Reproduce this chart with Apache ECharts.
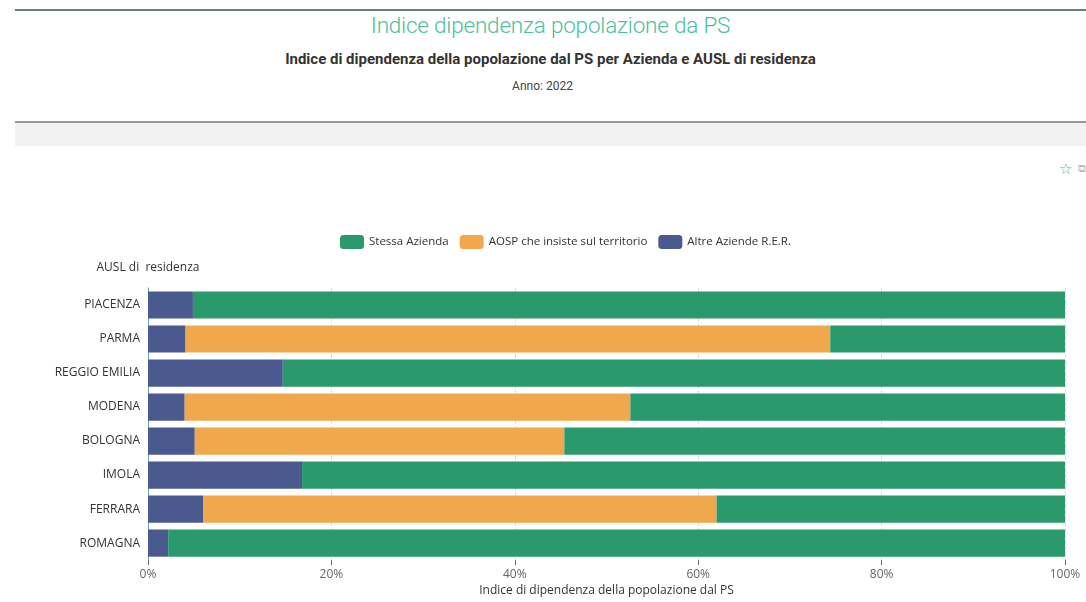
<!DOCTYPE html>
<html>
<head>
<meta charset="utf-8">
<script src="https://cdn.jsdelivr.net/npm/echarts@6/dist/echarts.min.js"></script>
<style>
    body { margin: 0; width: 1086px; height: 602px; background: #fff; font-family: Roboto, sans-serif; overflow: hidden; position: relative; }
    #header { position: absolute; left: 15px; top: 9px; width: 1071px; height: 110px; border-top: 2px solid #6a7d78; border-bottom: 2px solid #9a9a9a; text-align: center; }
    #header .t1 { color: #4cbf9e; font-size: 22.5px; font-weight: 300; margin-top: 1px; letter-spacing: -0.2px; }
    #header .t2 { color: #333; font-size: 15px; font-weight: bold; margin-top: 12px; }
    #header .t3 { color: #444; font-size: 12px; margin-top: 11px; padding-right: 16px; }
    #band { position: absolute; left: 15px; top: 123px; width: 1071px; height: 23px; background: #f2f2f2; }
    #star { position: absolute; left: 1059px; top: 160px; color: #3bbf9e; font-size: 15px; }
    #star2 { position: absolute; left: 1078px; top: 162px; color: #bbb; font-size: 11px; }
    #chart { position: absolute; left: 0; top: 150px; width: 1086px; height: 452px; }
</style>
</head>
<body>
<div id="header">
    <div class="t1">Indice dipendenza popolazione da PS</div>
    <div class="t2">Indice di dipendenza della popolazione dal PS per Azienda e AUSL di residenza</div>
    <div class="t3">Anno: 2022</div>
</div>
<div id="band"></div>
<div id="star">☆</div>
<div id="star2">⧉</div>
<div id="chart"></div>
<script>
    // dati (%)
    var categories = ['PIACENZA', 'PARMA', 'REGGIO EMILIA', 'MODENA', 'BOLOGNA', 'IMOLA', 'FERRARA', 'ROMAGNA'];
    var altreAziende = [4.9, 4.1, 14.7, 4.0, 5.1, 16.8, 6.0, 2.2];
    var aosp = [0, 70.3, 0, 48.6, 40.3, 0, 56.0, 0];
    var stessaAzienda = [95.1, 25.6, 85.3, 47.4, 54.6, 83.2, 38.0, 97.8];
    var xTicks = [0, 20, 40, 60, 80, 100];

    var chart = echarts.init(document.getElementById('chart'));
    var labelFont = '"Open Sans", sans-serif';

    var option = {
        textStyle: { fontFamily: labelFont },
        legend: {
            top: 80,
            left: 335,
            itemWidth: 24,
            itemHeight: 14,
            itemGap: 11,
            textStyle: { color: '#333', fontSize: 11.5 },
            data: ['Stessa Azienda', 'AOSP che insiste sul territorio', 'Altre Aziende R.E.R.']
        },
        grid: { left: 148, right: 21, top: 138, bottom: 33 },
        xAxis: {
            type: 'value',
            min: xTicks[0],
            max: xTicks[xTicks.length - 1],
            interval: 20,
            name: 'Indice di dipendenza della popolazione dal PS',
            nameLocation: 'middle',
            nameGap: 24,
            nameTextStyle: { color: '#333', fontSize: 12 },
            axisLine: { show: false },
            axisTick: { show: true, lineStyle: { color: '#666' } },
            axisLabel: { color: '#666', fontSize: 12, formatter: '{value}%' },
            splitLine: { show: true, lineStyle: { color: '#ddd', type: 'dashed' } }
        },
        yAxis: {
            type: 'category',
            data: categories,
            inverse: true,
            name: 'AUSL di  residenza',
            nameLocation: 'start',
            nameGap: 14,
            nameTextStyle: { color: '#333', fontSize: 12, align: 'center' },
            axisLine: { lineStyle: { color: '#6e9fa5' } },
            axisTick: { lineStyle: { color: '#6e9fa5' } },
            axisLabel: { color: '#333', fontSize: 12 }
        },
        series: [
            {
                name: 'Altre Aziende R.E.R.',
                type: 'bar',
                stack: 'tot',
                barWidth: '80%',
                itemStyle: { color: '#4a5a8e' },
                data: altreAziende
            },
            {
                name: 'AOSP che insiste sul territorio',
                type: 'bar',
                stack: 'tot',
                itemStyle: { color: '#f1a84c' },
                data: aosp
            },
            {
                name: 'Stessa Azienda',
                type: 'bar',
                stack: 'tot',
                itemStyle: { color: '#2a9a6c' },
                data: stessaAzienda
            }
        ]
    };

    chart.setOption(option);
    window.addEventListener('resize', function () {
        chart.resize();
    });
</script>
</body>
</html>
